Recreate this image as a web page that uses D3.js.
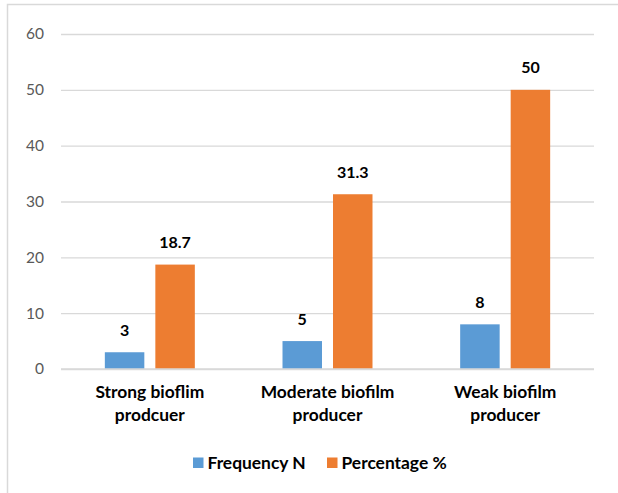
<!DOCTYPE html>
<html>
<head>
<meta charset="utf-8">
<script src="https://cdn.jsdelivr.net/npm/d3@7/dist/d3.min.js"></script>
<style>
  html, body { margin: 0; padding: 0; background: #fff; }
  svg { display: block; }
  text { font-family: Lato, "Open Sans", sans-serif; }
</style>
</head>
<body>
<svg id="chart" width="618" height="493"></svg>
<script>
// Biofilm production categories and their two series
const categories = [["Strong bioflim", "prodcuer"], ["Moderate biofilm", "producer"], ["Weak biofilm", "producer"]];
const seriesNames = ["Frequency N", "Percentage %"];
const frequency = [3, 5, 8];
const percentage = [18.7, 31.3, 50];
const yTicks = [0, 10, 20, 30, 40, 50, 60];
const colors = ["#5B9BD5", "#ED7D31"];

const svg = d3.select("#chart");
const W = 618, H = 493;
const plot = { left: 61, right: 594, top: 34, bottom: 369 };

// outer frame (left and top edges visible)
svg.append("path")
  .attr("d", `M7.5,${H} L7.5,4.5 L${W},4.5`)
  .attr("fill", "none").attr("stroke", "#D9D9D9").attr("stroke-width", 1.5);

const x0 = d3.scaleBand()
  .domain(d3.range(categories.length))
  .range([plot.left, plot.right])
  .paddingInner(0).paddingOuter(0);

const x1 = d3.scaleBand()
  .domain([0, 1])
  .range([0, x0.bandwidth()])
  .paddingInner(0.218).paddingOuter(0.868);

const y = d3.scaleLinear().domain([0, 60]).range([plot.bottom, plot.top]);

// gridlines and y tick labels via axis
const yAxis = d3.axisLeft(y).tickValues(yTicks).tickSize(-(plot.right - plot.left)).tickPadding(17);
const gy = svg.append("g").attr("transform", `translate(${plot.left},0)`).call(yAxis);
gy.select(".domain").remove();
gy.selectAll(".tick line").attr("stroke", "#D9D9D9").attr("stroke-width", 1.3);
gy.selectAll(".tick text")
  .attr("fill", "#595959")
  .style("font-size", "15.5px")
  .style("font-family", "Lato, sans-serif");

// bars
const data = categories.map((c, i) => [frequency[i], percentage[i]]);
const groups = svg.append("g").selectAll("g")
  .data(data).join("g")
  .attr("transform", (d, i) => `translate(${x0(i)},0)`);

groups.selectAll("rect")
  .data(d => d.map((v, k) => ({ v, k })))
  .join("rect")
  .attr("x", d => x1(d.k))
  .attr("width", x1.bandwidth())
  .attr("y", d => y(d.v))
  .attr("height", d => y(0) - y(d.v))
  .attr("fill", d => colors[d.k]);

// value labels
groups.selectAll("text.val")
  .data(d => d.map((v, k) => ({ v, k })))
  .join("text")
  .attr("class", "val")
  .attr("x", d => x1(d.k) + x1.bandwidth() / 2)
  .attr("y", d => y(d.v) - 16.5)
  .attr("text-anchor", "middle")
  .style("font-size", "16px")
  .style("font-weight", "bold")
  .attr("fill", "#000")
  .text(d => d.v);

// x axis baseline
svg.append("line")
  .attr("x1", plot.left).attr("x2", plot.right)
  .attr("y1", y(0)).attr("y2", y(0))
  .attr("stroke", "#D9D9D9").attr("stroke-width", 1.5);

// category labels (two lines)
const cat = svg.append("g").selectAll("text")
  .data(categories).join("text")
  .attr("x", (d, i) => x0(i) + x0.bandwidth() / 2)
  .attr("y", 398)
  .attr("text-anchor", "middle")
  .style("font-size", "17.4px")
  .style("font-weight", "bold")
  .attr("fill", "#000");
cat.selectAll("tspan")
  .data(d => d).join("tspan")
  .attr("x", function () { return this.parentNode.getAttribute("x"); })
  .attr("dy", (d, i) => i === 0 ? 0 : 23)
  .text(d => d);

// legend
const legendX = [193, 327];
const legend = svg.append("g").selectAll("g")
  .data(seriesNames).join("g")
  .attr("transform", (d, i) => `translate(${legendX[i]},457.5)`);
legend.append("rect").attr("width", 10.5).attr("height", 10.5).attr("fill", (d, i) => colors[i]);
legend.append("text")
  .attr("x", 14.5).attr("y", 11.5)
  .style("font-size", "17.4px")
  .style("font-weight", "bold")
  .attr("fill", "#000")
  .text(d => d);
</script>
</body>
</html>
